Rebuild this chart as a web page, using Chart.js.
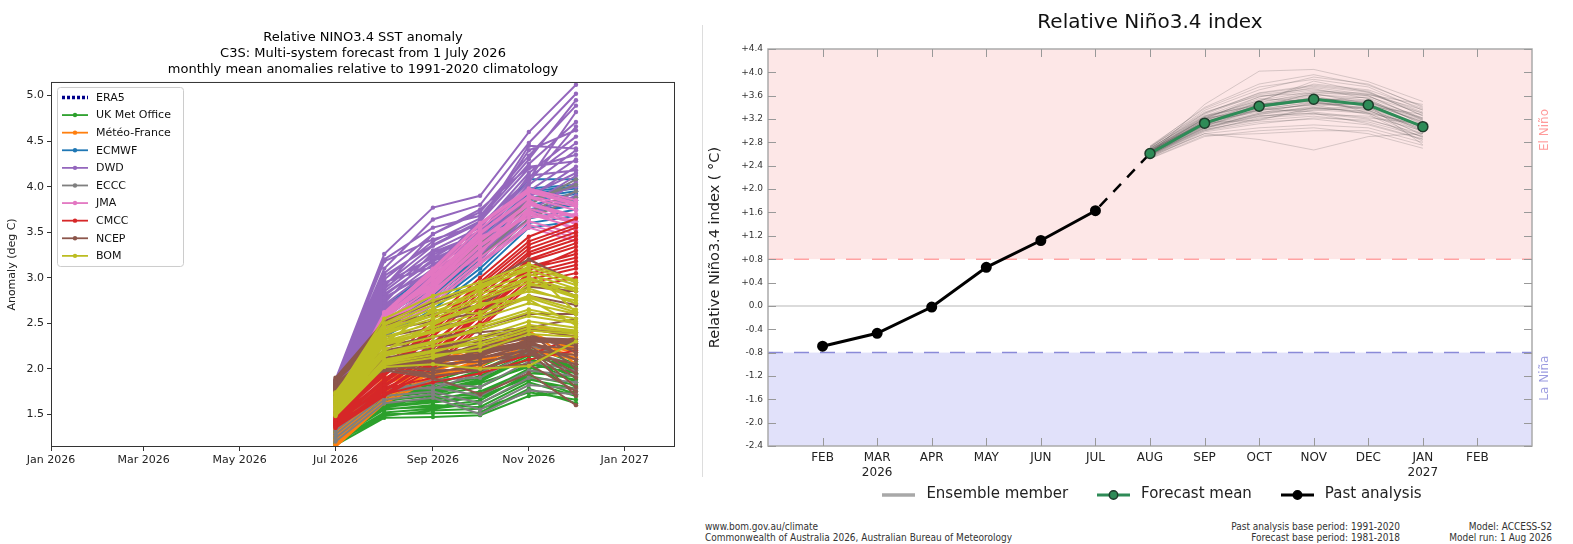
<!DOCTYPE html>
<html>
<head>
<meta charset="utf-8">
<title>Niño3.4 forecasts</title>
<script src="https://cdn.jsdelivr.net/npm/chart.js@4.4.1/dist/chart.umd.min.js"></script>
<style>
  body { margin: 0; width: 1573px; height: 544px; background: #fff; position: relative; overflow: hidden; }
  .wrap { position: absolute; }
  .foot { position: absolute; font-family: 'DejaVu Sans Condensed', 'DejaVu Sans', sans-serif; font-size: 10px; line-height: 11px; color: #333; white-space: nowrap; }
</style>
</head>
<body>
<div class="wrap" style="left:0; top:0; width:690px; height:480px;"><canvas id="c3sChart"></canvas></div>
<div class="wrap" style="left:700px; top:0; width:873px; height:512px;"><canvas id="bomChart"></canvas></div>
<div style="position:absolute; left:702px; top:25px; width:1px; height:452px; background:#dddddd;"></div>
<div class="foot" style="left:705px; top:521px;">www.bom.gov.au/climate<br>Commonwealth of Australia 2026, Australian Bureau of Meteorology</div>
<div class="foot" style="right:173px; top:521px; text-align:right;">Past analysis base period: 1991-2020<br>Forecast base period: 1981-2018</div>
<div class="foot" style="right:21px; top:521px; text-align:right;">Model: ACCESS-S2<br>Model run: 1 Aug 2026</div>

<script>
// ---------- left panel: C3S multi-system members, Jul..Dec 2026 ----------
const leadMonths = [6, 7, 8, 9, 10, 11];          // month index in 2026 (Jul..Dec)
const c3sTickMonths = [0, 2, 4, 6, 8, 10, 12];
const c3sTickLabels = ['Jan 2026', 'Mar 2026', 'May 2026', 'Jul 2026', 'Sep 2026', 'Nov 2026', 'Jan 2027'];
const c3sYTicks = [1.5, 2.0, 2.5, 3.0, 3.5, 4.0, 4.5, 5.0];

const modelNames = ['ERA5', 'UK Met Office', 'Météo-France', 'ECMWF', 'DWD', 'ECCC', 'JMA', 'CMCC', 'NCEP', 'BOM'];

const era5Members = [];
const ukmoMembers = [
    [1.16, 1.46, 1.47, 1.49, 1.70, 1.75],
    [1.18, 1.50, 1.51, 1.52, 1.78, 1.62],
    [1.22, 1.55, 1.60, 1.58, 1.85, 1.70],
    [1.25, 1.58, 1.63, 1.68, 1.92, 1.82],
    [1.28, 1.62, 1.66, 1.75, 1.98, 1.88],
    [1.30, 1.65, 1.70, 1.80, 2.05, 1.95],
    [1.33, 1.68, 1.74, 1.86, 2.12, 1.90],
    [1.36, 1.72, 1.78, 1.92, 2.18, 2.02],
    [1.40, 1.75, 1.82, 1.98, 2.22, 1.98],
    [1.44, 1.78, 1.86, 2.02, 2.26, 2.05],
    [1.20, 1.52, 1.56, 1.62, 1.88, 1.78],
    [1.47, 1.70, 1.80, 1.90, 2.10, 1.85],
    [1.26, 1.60, 1.68, 1.72, 2.00, 2.08],
    [1.19, 1.48, 1.54, 1.56, 1.74, 1.66],
    [1.23, 1.56, 1.58, 1.65, 1.95, 1.92],
    [1.31, 1.64, 1.72, 1.84, 2.02, 1.80],
    [1.38, 1.70, 1.76, 1.88, 2.15, 2.00],
    [1.42, 1.74, 1.84, 1.96, 2.20, 1.94],
    [1.27, 1.59, 1.64, 1.70, 1.90, 1.72],
];
const mfMembers = [
    [1.14, 1.62, 1.88, 2.05, 2.20, 2.10],
    [1.17, 1.68, 1.92, 2.10, 2.28, 2.18],
    [1.20, 1.72, 1.95, 2.02, 2.35, 2.25],
    [1.23, 1.78, 2.00, 2.15, 2.42, 2.05],
    [1.26, 1.82, 2.04, 2.20, 2.30, 2.32],
    [1.29, 1.86, 1.98, 2.12, 2.48, 2.38],
    [1.32, 1.75, 2.08, 2.24, 2.38, 2.22],
    [1.35, 1.90, 2.10, 2.18, 2.25, 2.15],
    [1.15, 1.65, 1.90, 2.08, 2.24, 2.12],
    [1.21, 1.74, 1.97, 2.14, 2.32, 2.28],
    [1.27, 1.84, 2.02, 2.22, 2.44, 2.35],
    [1.33, 1.88, 2.06, 2.16, 2.40, 2.20],
];
const ecmwfMembers = [
    [1.58, 2.35, 2.65, 3.05, 3.55, 3.62],
    [1.60, 2.40, 2.75, 3.15, 3.65, 3.75],
    [1.62, 2.45, 2.82, 3.25, 3.75, 3.85],
    [1.64, 2.50, 2.88, 3.32, 3.85, 3.92],
    [1.66, 2.55, 2.95, 3.40, 3.92, 3.98],
    [1.68, 2.62, 3.02, 3.48, 4.08, 4.08],
    [1.63, 2.58, 2.90, 3.38, 3.88, 3.95],
    [1.61, 2.42, 2.78, 3.20, 3.70, 3.80],
    [1.65, 2.68, 3.08, 3.52, 3.98, 4.02],
    [1.59, 2.38, 2.70, 3.10, 3.60, 3.68],
    [1.62, 2.48, 2.85, 3.28, 3.80, 3.88],
    [1.66, 2.60, 2.98, 3.44, 3.95, 4.00],
    [1.60, 2.44, 2.80, 3.22, 3.72, 3.82],
];
const dwdMembers = [
    [1.88, 3.26, 3.77, 3.90, 4.60, 5.12],
    [1.85, 3.10, 3.64, 3.80, 4.48, 5.02],
    [1.82, 3.05, 3.48, 3.72, 4.34, 4.89],
    [1.80, 2.98, 3.40, 3.65, 4.25, 4.71],
    [1.78, 2.92, 3.35, 3.60, 4.40, 4.62],
    [1.76, 2.88, 3.30, 3.55, 4.15, 4.55],
    [1.74, 2.85, 3.25, 3.50, 4.10, 4.48],
    [1.72, 2.80, 3.20, 3.45, 4.02, 4.40],
    [1.70, 2.75, 3.15, 3.40, 3.95, 4.30],
    [1.68, 2.70, 3.10, 3.35, 3.88, 4.22],
    [1.66, 2.66, 3.05, 3.30, 3.80, 4.12],
    [1.64, 2.62, 3.00, 3.25, 3.72, 4.05],
    [1.62, 2.60, 2.95, 3.22, 3.65, 3.95],
    [1.86, 3.18, 3.42, 3.58, 4.08, 4.82],
    [1.75, 2.95, 3.12, 3.62, 4.20, 4.35],
    [1.69, 2.72, 3.28, 3.48, 3.98, 3.85],
    [1.87, 3.20, 3.55, 3.68, 4.30, 4.95],
    [1.83, 3.02, 3.36, 3.62, 4.45, 4.42],
    [1.79, 2.94, 3.22, 3.52, 4.05, 4.66],
    [1.77, 2.90, 3.48, 3.75, 4.22, 4.28],
    [1.73, 2.82, 3.18, 3.42, 4.12, 4.18],
    [1.71, 2.78, 3.08, 3.38, 3.90, 4.15],
    [1.67, 2.68, 3.02, 3.28, 3.85, 4.00],
    [1.63, 2.64, 2.98, 3.20, 3.70, 3.90],
];
const ecccMembers = [
    [1.20, 1.62, 1.68, 1.50, 1.76, 1.72],
    [1.24, 1.66, 1.72, 1.55, 1.82, 1.78],
    [1.28, 1.70, 1.75, 1.62, 1.90, 1.85],
    [1.32, 1.74, 1.80, 1.70, 1.98, 1.92],
    [1.36, 1.78, 1.84, 1.80, 2.08, 1.98],
    [1.40, 1.72, 1.88, 1.90, 2.18, 2.05],
    [1.44, 1.80, 1.78, 1.95, 2.26, 2.10],
    [1.50, 2.45, 2.85, 3.30, 3.80, 4.08],
    [1.48, 2.40, 2.78, 3.22, 3.72, 3.95],
    [1.52, 2.50, 2.92, 3.38, 3.85, 4.02],
    [1.46, 2.35, 2.70, 3.15, 3.65, 3.88],
];
const jmaMembers = [
    [1.45, 2.40, 2.70, 3.15, 3.55, 3.40],
    [1.48, 2.45, 2.78, 3.22, 3.62, 3.48],
    [1.50, 2.48, 2.84, 3.30, 3.70, 3.55],
    [1.52, 2.52, 2.90, 3.36, 3.76, 3.62],
    [1.54, 2.55, 2.95, 3.42, 3.82, 3.68],
    [1.56, 2.58, 3.00, 3.48, 3.88, 3.74],
    [1.58, 2.60, 3.05, 3.54, 3.94, 3.80],
    [1.60, 2.62, 3.10, 3.60, 3.98, 3.85],
    [1.53, 2.50, 2.86, 3.26, 3.85, 3.58],
    [1.49, 2.56, 2.98, 3.45, 3.66, 3.70],
    [1.46, 2.42, 2.74, 3.18, 3.58, 3.44],
    [1.51, 2.47, 2.82, 3.28, 3.74, 3.52],
    [1.55, 2.57, 2.92, 3.40, 3.80, 3.66],
    [1.57, 2.53, 3.02, 3.50, 3.90, 3.78],
    [1.59, 2.61, 3.08, 3.58, 3.96, 3.82],
    [1.47, 2.44, 2.88, 3.34, 3.72, 3.60],
];
const cmccMembers = [
    [1.35, 1.70, 2.00, 2.45, 2.90, 3.00],
    [1.38, 1.75, 2.08, 2.52, 2.98, 3.10],
    [1.40, 1.80, 2.15, 2.60, 3.05, 3.18],
    [1.42, 1.85, 2.22, 2.66, 3.12, 3.26],
    [1.44, 1.88, 2.28, 2.72, 3.18, 3.34],
    [1.46, 1.92, 2.35, 2.80, 3.25, 3.42],
    [1.48, 1.95, 2.42, 2.88, 3.32, 3.50],
    [1.50, 1.98, 2.48, 2.95, 3.40, 3.58],
    [1.52, 2.00, 2.55, 3.00, 3.45, 3.65],
    [1.41, 1.78, 2.05, 2.70, 3.08, 3.30],
    [1.36, 1.72, 2.04, 2.48, 2.94, 3.05],
    [1.39, 1.82, 2.18, 2.62, 3.10, 3.22],
    [1.43, 1.86, 2.25, 2.74, 3.20, 3.38],
    [1.47, 1.94, 2.38, 2.84, 3.28, 3.46],
    [1.49, 1.96, 2.45, 2.92, 3.36, 3.55],
    [1.37, 1.76, 2.12, 2.58, 3.02, 3.14],
    [1.40, 1.72, 1.85, 1.95, 2.10, 2.20],
    [1.44, 1.78, 1.90, 2.00, 2.15, 2.35],
];
const ncepMembers = [
    [1.90, 2.52, 2.73, 2.92, 3.20, 2.95],
    [1.88, 2.48, 2.60, 2.70, 3.00, 2.80],
    [1.86, 2.35, 2.45, 2.55, 2.80, 2.70],
    [1.84, 2.25, 2.35, 2.40, 2.45, 2.55],
    [1.82, 2.18, 2.25, 2.30, 2.42, 2.40],
    [1.80, 2.10, 2.15, 2.25, 2.35, 2.25],
    [1.78, 2.05, 2.05, 2.20, 2.30, 2.10],
    [1.76, 2.02, 2.00, 2.12, 2.25, 1.95],
    [1.74, 2.00, 1.95, 2.05, 2.22, 1.80],
    [1.72, 1.98, 1.90, 1.72, 1.95, 1.60],
    [1.71, 2.04, 1.98, 2.00, 2.05, 1.75],
    [1.79, 2.30, 2.20, 2.35, 2.40, 2.00],
    [1.87, 2.42, 2.52, 2.62, 2.90, 2.85],
    [1.83, 2.20, 2.30, 2.45, 2.60, 2.60],
    [1.81, 2.12, 2.20, 2.36, 2.44, 2.35],
    [1.77, 2.06, 2.10, 2.28, 2.38, 2.18],
    [1.73, 2.01, 1.92, 1.98, 2.20, 1.70],
    [1.80, 2.02, 2.08, 2.12, 2.20, 2.15],
    [1.82, 2.06, 2.12, 2.16, 2.26, 2.22],
    [1.78, 2.04, 2.15, 2.20, 2.30, 2.28],
    [1.84, 2.08, 2.18, 2.22, 2.34, 2.32],
    [1.76, 2.00, 2.05, 2.08, 2.16, 2.05],
    [1.85, 2.10, 2.20, 2.18, 2.28, 2.10],
    [1.81, 2.03, 2.10, 2.14, 2.32, 2.30],
    [1.79, 2.07, 2.13, 2.24, 2.22, 1.90],
];
const bomMembers = [
    [1.72, 2.55, 2.80, 2.95, 3.15, 2.97],
    [1.70, 2.48, 2.70, 2.90, 3.08, 2.92],
    [1.68, 2.42, 2.62, 2.82, 3.00, 2.85],
    [1.66, 2.38, 2.55, 2.75, 2.95, 2.78],
    [1.64, 2.35, 2.50, 2.68, 2.88, 2.72],
    [1.62, 2.30, 2.45, 2.62, 2.80, 2.65],
    [1.60, 2.26, 2.40, 2.55, 2.72, 2.60],
    [1.58, 2.22, 2.35, 2.48, 2.65, 2.55],
    [1.56, 2.18, 2.30, 2.42, 2.58, 2.50],
    [1.54, 2.14, 2.25, 2.35, 2.52, 2.45],
    [1.52, 2.10, 2.20, 2.28, 2.45, 2.40],
    [1.50, 2.06, 2.15, 2.20, 2.38, 2.35],
    [1.48, 2.02, 2.05, 2.00, 2.03, 2.30],
    [1.74, 2.45, 2.58, 2.88, 3.10, 2.62],
    [1.65, 2.28, 2.65, 2.60, 2.92, 2.88],
    [1.57, 2.20, 2.48, 2.72, 2.76, 2.48],
    [1.73, 2.50, 2.75, 2.92, 3.12, 2.95],
    [1.69, 2.45, 2.66, 2.85, 3.04, 2.88],
    [1.67, 2.40, 2.58, 2.78, 2.98, 2.80],
    [1.63, 2.32, 2.52, 2.70, 2.85, 2.75],
    [1.61, 2.28, 2.42, 2.58, 2.78, 2.62],
    [1.55, 2.16, 2.28, 2.45, 2.62, 2.52],
    [1.51, 2.08, 2.18, 2.32, 2.48, 2.42],
    [1.49, 2.04, 2.12, 2.25, 2.42, 2.38],
];
const modelMembers = [era5Members, ukmoMembers, mfMembers, ecmwfMembers, dwdMembers,
    ecccMembers, jmaMembers, cmccMembers, ncepMembers, bomMembers];

// ---------- right panel: BoM ACCESS-S2 relative Niño3.4 ----------
const bomMonthLabels = ['FEB', 'MAR', 'APR', 'MAY', 'JUN', 'JUL', 'AUG', 'SEP', 'OCT', 'NOV', 'DEC', 'JAN', 'FEB'];
const bomYearLabels = ['', '2026', '', '', '', '', '', '', '', '', '', '2027', ''];
const pastMonthPos = [1, 2, 3, 4, 5, 6];             // FEB..JUL 2026
const pastAnalysis = [-0.69, -0.47, -0.02, 0.66, 1.12, 1.63];
const forecastMonthPos = [7, 8, 9, 10, 11, 12];      // AUG 2026..JAN 2027
const forecastMean = [2.61, 3.13, 3.42, 3.54, 3.44, 3.07];
const elNinoThreshold = 0.8;
const laNinaThreshold = -0.8;
const ensembleMembers = [
    [2.55, 2.95, 3.05, 3.10, 3.05, 2.80],
    [2.58, 3.00, 3.15, 3.20, 3.10, 2.85],
    [2.60, 3.05, 3.25, 3.30, 3.20, 2.90],
    [2.62, 3.10, 3.30, 3.40, 3.30, 2.95],
    [2.64, 3.12, 3.38, 3.48, 3.38, 3.00],
    [2.66, 3.15, 3.45, 3.55, 3.45, 3.05],
    [2.68, 3.20, 3.50, 3.62, 3.52, 3.12],
    [2.70, 3.25, 3.58, 3.70, 3.60, 3.18],
    [2.72, 3.30, 3.65, 3.78, 3.68, 3.25],
    [2.74, 3.38, 3.75, 3.88, 3.75, 3.35],
    [2.60, 3.45, 4.02, 4.05, 3.84, 3.50],
    [2.57, 2.95, 2.85, 2.67, 2.90, 2.95],
    [2.52, 2.90, 3.00, 3.05, 2.95, 2.70],
    [2.62, 3.18, 3.40, 3.65, 3.60, 3.20],
    [2.65, 3.08, 3.35, 3.45, 3.50, 3.15],
    [2.59, 3.02, 3.20, 3.35, 3.40, 3.08],
    [2.63, 3.22, 3.55, 3.50, 3.35, 2.98],
    [2.67, 3.14, 3.42, 3.58, 3.30, 2.88],
    [2.61, 3.06, 3.28, 3.42, 3.48, 3.22],
    [2.69, 3.28, 3.62, 3.72, 3.55, 3.10],
    [2.56, 3.00, 3.22, 3.28, 3.25, 3.00],
    [2.71, 3.35, 3.70, 3.92, 3.80, 3.40],
    [2.64, 3.16, 3.32, 3.38, 3.42, 3.28],
    [2.60, 3.10, 3.45, 3.60, 3.40, 3.02],
    [2.66, 3.20, 3.40, 3.52, 3.58, 3.30],
    [2.58, 3.04, 3.30, 3.48, 3.36, 2.92],
    [2.73, 3.32, 3.60, 3.64, 3.46, 3.05],
    [2.54, 2.98, 3.12, 3.22, 3.18, 2.95],
    [2.68, 3.24, 3.52, 3.80, 3.70, 3.38],
    [2.62, 3.12, 3.36, 3.44, 3.28, 2.82],
    [2.65, 3.18, 3.48, 3.66, 3.62, 3.45],
    [2.59, 3.08, 3.38, 3.32, 3.22, 3.12],
    [2.70, 3.26, 3.44, 3.56, 3.50, 3.18],
    [2.63, 3.14, 3.18, 3.40, 3.32, 3.04],
    [2.61, 3.12, 3.50, 3.85, 3.66, 3.26],
    [2.67, 3.22, 3.34, 3.46, 3.44, 2.76],
    [2.53, 2.92, 2.95, 3.00, 3.00, 2.75],
    [2.57, 3.02, 3.18, 3.25, 3.15, 2.90],
    [2.60, 3.08, 3.28, 3.38, 3.34, 3.06],
    [2.62, 3.14, 3.44, 3.56, 3.48, 3.14],
    [2.64, 3.18, 3.46, 3.62, 3.56, 3.22],
    [2.66, 3.22, 3.52, 3.68, 3.64, 3.30],
    [2.69, 3.30, 3.64, 3.76, 3.66, 3.32],
    [2.72, 3.40, 3.80, 3.96, 3.78, 3.42],
    [2.58, 3.06, 3.26, 3.30, 3.12, 2.86],
    [2.61, 3.10, 3.36, 3.50, 3.46, 3.16],
    [2.63, 3.16, 3.40, 3.54, 3.52, 3.20],
    [2.67, 3.24, 3.46, 3.50, 3.38, 3.00],
    [2.65, 3.20, 3.58, 3.74, 3.62, 3.36],
    [2.60, 3.04, 3.24, 3.36, 3.30, 3.10],
];

document.addEventListener('DOMContentLoaded', () => {
    Chart.defaults.font.family = "'DejaVu Sans', sans-serif";
    Chart.defaults.animation = false;

    // days since 1 Jan 2026
    const dayOf = m => (Date.UTC(2026, m, 1) - Date.UTC(2026, 0, 1)) / 864e5;
    const leadDays = leadMonths.map(dayOf);
    const tickDays = c3sTickMonths.map(dayOf);

    const modelColors = ['#00008b', '#2ca02c', '#ff7f0e', '#1f77b4', '#9467bd',
        '#7f7f7f', '#e377c2', '#d62728', '#8c564b', '#bcbd22'];

    // every member in one dataset per model, broken by a null point
    const toPoints = members => members.flatMap(m => [
        ...m.map((v, i) => ({ x: leadDays[i], y: v })),
        { x: leadDays[m.length - 1], y: null },
    ]);

    const c3sFrameLegend = {
        id: 'c3sFrameLegend',
        afterDatasetsDraw(chart) {
            const { ctx, chartArea: a } = chart;
            ctx.save();
            ctx.strokeStyle = '#333';
            ctx.lineWidth = 1;
            ctx.strokeRect(a.left + 0.5, a.top + 0.5, a.width - 1, a.height - 1);

            // legend box in the upper left corner
            const x0 = a.left + 6, y0 = a.top + 5, rowH = 17.6;
            const n = chart.data.datasets.length;
            ctx.fillStyle = 'rgba(255,255,255,0.85)';
            ctx.strokeStyle = '#cccccc';
            ctx.beginPath();
            if (ctx.roundRect) ctx.roundRect(x0 + 0.5, y0 + 0.5, 126, rowH * n + 3, 3);
            else ctx.rect(x0 + 0.5, y0 + 0.5, 126, rowH * n + 3);
            ctx.fill();
            ctx.stroke();
            ctx.font = "11px 'DejaVu Sans'";
            ctx.textBaseline = 'middle';
            chart.data.datasets.forEach((ds, i) => {
                const y = y0 + 10.5 + i * rowH;
                ctx.strokeStyle = ds.borderColor;
                ctx.lineWidth = i === 0 ? 3.5 : 1.8;
                ctx.setLineDash(i === 0 ? [3, 2] : []);
                ctx.beginPath();
                ctx.moveTo(x0 + 5, y);
                ctx.lineTo(x0 + 31, y);
                ctx.stroke();
                ctx.setLineDash([]);
                if (i > 0) {
                    ctx.fillStyle = ds.borderColor;
                    ctx.beginPath();
                    ctx.arc(x0 + 18, y, 2.2, 0, Math.PI * 2);
                    ctx.fill();
                }
                ctx.fillStyle = '#111';
                ctx.fillText(ds.label, x0 + 39, y + 0.5);
            });
            ctx.restore();
        },
    };

    new Chart(document.getElementById('c3sChart'), {
        type: 'line',
        data: {
            datasets: modelNames.map((name, i) => ({
                label: name,
                data: toPoints(modelMembers[i]),
                borderColor: modelColors[i],
                backgroundColor: modelColors[i],
                borderWidth: 2,
                borderDash: i === 0 ? [3, 2] : [],
                pointRadius: i === 0 ? 0 : 2.2,
                pointBorderWidth: 0,
                pointBackgroundColor: modelColors[i],
                spanGaps: false,
                order: modelNames.length - i,
            })),
        },
        options: {
            responsive: true,
            maintainAspectRatio: false,
            layout: { padding: { left: 0, right: 15, top: 0, bottom: 0 } },
            plugins: {
                legend: { display: false },
                tooltip: { enabled: false },
                title: {
                    display: true,
                    fullSize: false,
                    text: ['Relative NINO3.4 SST anomaly',
                        'C3S: Multi-system forecast from 1 July 2026',
                        'monthly mean anomalies relative to 1991-2020 climatology'],
                    color: '#000',
                    font: { size: 13, weight: 'normal', lineHeight: 1.23 },
                    padding: { top: 30, bottom: 4 },
                },
            },
            scales: {
                x: {
                    type: 'linear',
                    min: 0,
                    max: 397,
                    afterBuildTicks: s => { s.ticks = tickDays.map(v => ({ value: v })); },
                    afterFit: s => { s.height = 33; },
                    ticks: {
                        autoSkip: false,
                        maxRotation: 0,
                        padding: 2.5,
                        color: '#222',
                        font: { size: 11 },
                        callback: (v, i) => c3sTickLabels[i],
                    },
                    grid: { drawOnChartArea: false, drawTicks: true, tickLength: 4, color: '#333' },
                    border: { display: false },
                },
                y: {
                    type: 'linear',
                    min: 1.14,
                    max: 5.15,
                    afterBuildTicks: s => { s.ticks = c3sYTicks.map(v => ({ value: v })); },
                    afterFit: s => { s.width = 51; },
                    ticks: {
                        padding: 3,
                        color: '#222',
                        font: { size: 11 },
                        callback: v => v.toFixed(1),
                    },
                    grid: { drawOnChartArea: false, drawTicks: true, tickLength: 4, color: '#333' },
                    border: { display: false },
                    title: {
                        display: true,
                        text: 'Anomaly (deg C)',
                        color: '#222',
                        font: { size: 11 },
                        padding: { top: 6 },
                    },
                },
            },
        },
        plugins: [c3sFrameLegend],
    });

    // ---------- right panel ----------
    const xMin = 0, xMax = 14;

    const lineIcon = (color, width, marker, markerEdge) => {
        const c = document.createElement('canvas');
        c.width = 33;
        c.height = 14;
        const g = c.getContext('2d');
        g.strokeStyle = color;
        g.lineWidth = width;
        g.beginPath();
        g.moveTo(0, 7);
        g.lineTo(33, 7);
        g.stroke();
        if (marker) {
            g.fillStyle = marker;
            g.strokeStyle = markerEdge;
            g.lineWidth = 1.5;
            g.beginPath();
            g.arc(16.5, 7, 4.2, 0, Math.PI * 2);
            g.fill();
            g.stroke();
        }
        return c;
    };

    const regimeBands = {
        id: 'regimeBands',
        beforeDatasetsDraw(chart) {
            const { ctx, chartArea: a, scales: { y } } = chart;
            const yHi = y.getPixelForValue(elNinoThreshold);
            const yLo = y.getPixelForValue(laNinaThreshold);
            ctx.save();
            ctx.fillStyle = '#fde7e7';
            ctx.fillRect(a.left, a.top, a.width, yHi - a.top);
            ctx.fillStyle = '#e1e1fa';
            ctx.fillRect(a.left, yLo, a.width, a.bottom - yLo);
            ctx.restore();
        },
        afterDatasetsDraw(chart) {
            const { ctx, chartArea: a, scales: { x, y } } = chart;
            ctx.save();
            ctx.strokeStyle = '#aaaaaa';
            ctx.lineWidth = 1.5;
            ctx.strokeRect(a.left, a.top, a.width, a.height);
            // inward tick marks on all four sides
            ctx.strokeStyle = '#999999';
            ctx.lineWidth = 1;
            ctx.beginPath();
            x.ticks.forEach(t => {
                const px = Math.round(x.getPixelForValue(t.value)) + 0.5;
                ctx.moveTo(px, a.top); ctx.lineTo(px, a.top + 8);
                ctx.moveTo(px, a.bottom); ctx.lineTo(px, a.bottom - 8);
            });
            y.ticks.forEach(t => {
                const py = Math.round(y.getPixelForValue(t.value)) + 0.5;
                ctx.moveTo(a.left, py); ctx.lineTo(a.left + 8, py);
                ctx.moveTo(a.right, py); ctx.lineTo(a.right - 8, py);
            });
            ctx.stroke();
            // regime names along the right edge
            ctx.font = "12px 'DejaVu Sans'";
            ctx.textAlign = 'center';
            ctx.textBaseline = 'middle';
            [['El Niño', '#ff9a9a', 0.204], ['La Niña', '#9c9ce0', 0.829]].forEach(([txt, col, f]) => {
                ctx.save();
                ctx.translate(a.right + 13, a.top + f * a.height);
                ctx.rotate(-Math.PI / 2);
                ctx.fillStyle = col;
                ctx.fillText(txt, 0, 0);
                ctx.restore();
            });
            ctx.restore();
        },
    };

    // legend row under the month labels
    const bomLegend = {
        id: 'bomLegend',
        afterDraw(chart) {
            const { ctx, chartArea: a } = chart;
            const items = chart.data.datasets.filter(ds => ds.legendIcon);
            ctx.save();
            ctx.font = "15px 'DejaVu Sans'";
            ctx.textBaseline = 'middle';
            ctx.fillStyle = '#222';
            const widths = items.map(ds => ds.legendIcon.width + 11 + ctx.measureText(ds.label).width);
            const total = widths.reduce((s, w) => s + w, 0) + 29 * (items.length - 1);
            let x = (a.left + a.right) / 2 + 2 - total / 2;
            const y = a.bottom + 48.5;
            items.forEach((ds, i) => {
                ctx.drawImage(ds.legendIcon, Math.round(x), Math.round(y - ds.legendIcon.height / 2));
                ctx.fillText(ds.label, x + ds.legendIcon.width + 11, y);
                x += widths[i] + 29;
            });
            ctx.restore();
        },
    };

    const hLine = (v, color, dash, width) => ({
        data: [{ x: xMin, y: v }, { x: xMax, y: v }],
        borderColor: color,
        borderWidth: width,
        borderDash: dash,
        pointRadius: 0,
        order: 10,
    });

    const ensembleSets = ensembleMembers.map((m, k) => ({
        label: 'Ensemble member',
        data: m.map((v, i) => ({ x: forecastMonthPos[i], y: v })),
        borderColor: 'rgba(60,60,60,0.2)',
        borderWidth: 1,
        pointRadius: 0,
        order: 5,
        legendIcon: k === 0 ? lineIcon('#a8a8a8', 3.5) : null,
    }));

    new Chart(document.getElementById('bomChart'), {
        type: 'line',
        data: {
            datasets: [
                hLine(0, '#cfcfcf', [], 1.5),
                hLine(elNinoThreshold, '#ffa3a3', [15, 11], 1.5),
                hLine(laNinaThreshold, '#8a8ad8', [15, 11], 1.5),
                ...ensembleSets,
                {
                    label: 'Forecast mean',
                    data: forecastMean.map((v, i) => ({ x: forecastMonthPos[i], y: v })),
                    borderColor: '#2e8b57',
                    borderWidth: 3,
                    pointRadius: 5,
                    pointBackgroundColor: '#2e8b57',
                    pointBorderColor: '#1d3b2a',
                    pointBorderWidth: 1.5,
                    order: 1,
                    legendIcon: lineIcon('#2e8b57', 3, '#2e8b57', '#1d3b2a'),
                },
                {
                    label: 'Past analysis',
                    data: pastAnalysis.map((v, i) => ({ x: pastMonthPos[i], y: v })),
                    borderColor: '#000',
                    borderWidth: 3,
                    pointRadius: 4,
                    pointBackgroundColor: '#000',
                    pointBorderColor: '#000',
                    order: 2,
                    legendIcon: lineIcon('#000', 3, '#000', '#000'),
                },
                {
                    // dashed link from last analysis to first forecast month
                    data: [
                        { x: pastMonthPos[pastMonthPos.length - 1], y: pastAnalysis[pastAnalysis.length - 1] },
                        { x: forecastMonthPos[0], y: forecastMean[0] },
                    ],
                    borderColor: '#000',
                    borderWidth: 2.5,
                    borderDash: [11, 9],
                    borderDashOffset: -6,
                    pointRadius: 0,
                    order: 3,
                },
            ],
        },
        options: {
            responsive: true,
            maintainAspectRatio: false,
            layout: { padding: { left: 0, right: 41, top: 0, bottom: 30 } },
            plugins: {
                tooltip: { enabled: false },
                legend: { display: false },
                title: {
                    display: true,
                    fullSize: false,
                    text: 'Relative Niño3.4 index',
                    color: '#111',
                    font: { size: 20, weight: 'normal', lineHeight: 1.2 },
                    padding: { top: 11, bottom: 14 },
                },
            },
            scales: {
                x: {
                    type: 'linear',
                    min: xMin,
                    max: xMax,
                    afterBuildTicks: s => { s.ticks = bomMonthLabels.map((_, i) => ({ value: i + 1 })); },
                    afterFit: s => { s.height = 36; },
                    ticks: {
                        autoSkip: false,
                        maxRotation: 0,
                        padding: 5,
                        color: '#222',
                        font: { size: 12 },
                        callback: (v, i) => bomYearLabels[i] ? [bomMonthLabels[i], bomYearLabels[i]] : bomMonthLabels[i],
                    },
                    grid: { display: false, drawTicks: false },
                    border: { display: false },
                },
                y: {
                    type: 'linear',
                    min: -2.4,
                    max: 4.4,
                    afterFit: s => { s.width = 68; },
                    ticks: {
                        stepSize: 0.4,
                        padding: 5,
                        color: '#333',
                        font: { size: 9 },
                        callback: v => Math.abs(v) < 1e-9 ? '0.0' : (v > 0 ? '+' : '') + v.toFixed(1),
                    },
                    grid: { display: false, drawTicks: false },
                    border: { display: false },
                    title: {
                        display: true,
                        text: 'Relative Niño3.4 index ( °C)',
                        color: '#222',
                        font: { size: 14.5 },
                        padding: { top: 7 },
                    },
                },
            },
        },
        plugins: [regimeBands, bomLegend],
    });
});
</script>
</body>
</html>
